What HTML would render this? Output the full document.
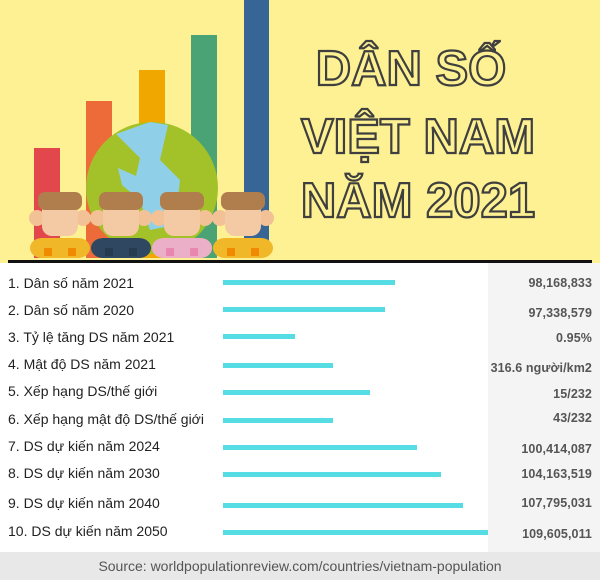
<!DOCTYPE html>
<html><head><meta charset="utf-8"><style>
body{margin:0;width:600px;height:580px;overflow:hidden;background:#fff;font-family:"Liberation Sans","DejaVu Sans",sans-serif;position:relative}
.t{position:absolute;left:8px;font-size:14px;color:#222;line-height:16px}
.v{position:absolute;right:8px;font-size:12.5px;color:#555;font-weight:bold;line-height:14px;letter-spacing:.1px}
.b{position:absolute;left:223px;height:5px;background:#55dde3}
</style></head><body>
<svg width="600" height="263" style="position:absolute;left:0;top:0">
<rect width="600" height="263" fill="#fdf193"/>
<rect x="34" y="148" width="26" height="110" fill="#e2474c"/>
<rect x="86" y="101" width="26" height="157" fill="#ec6b39"/>
<rect x="139" y="70" width="26" height="188" fill="#f0a800"/>
<rect x="191" y="35" width="26" height="223" fill="#4aa374"/>
<rect x="244" y="0" width="25" height="245" fill="#366596"/>
<circle cx="152" cy="188" r="66" fill="#a3c22a"/>
<path d="M116 134 L140 158 L136 176 L118 168 L122 185 L140 200 L150 230 L175 225 L180 180 L160 160 L168 125 L150 122 Z" fill="#8fd0e8"/>
<g id="k">
<rect x="30" y="238" width="60" height="20" rx="12" fill="#f0b829"/>
<rect x="44" y="248" width="8" height="8" fill="#f08a00"/><rect x="68" y="248" width="8" height="8" fill="#f08a00"/>
<circle cx="37" cy="218" r="8" fill="#f3c196"/><circle cx="83" cy="218" r="8" fill="#f3c196"/>
<rect x="42" y="200" width="36" height="36" rx="10" fill="#f4caa4"/>
<rect x="38" y="192" width="44" height="18" rx="7" fill="#b07d4c"/>
</g>
<use href="#k" x="61"/><use href="#k" x="122"/><use href="#k" x="183"/>
<rect x="91" y="238" width="60" height="20" rx="12" fill="#2f4760"/>
<rect x="105" y="248" width="8" height="8" fill="#263a50"/><rect x="129" y="248" width="8" height="8" fill="#263a50"/>
<rect x="152" y="238" width="60" height="20" rx="12" fill="#ebb0c8"/>
<rect x="166" y="248" width="8" height="8" fill="#e888b0"/><rect x="190" y="248" width="8" height="8" fill="#e888b0"/>
<g font-family="Liberation Sans, DejaVu Sans, sans-serif" font-weight="bold" font-size="49" fill="none" stroke="#3f3f3f" stroke-width="2.2" text-anchor="middle">
<text x="411" y="85">DÂN SỐ</text>
<text x="418" y="153">VIỆT NAM</text>
<text x="418" y="217">NĂM 2021</text>
</g>
<rect x="8" y="260" width="584" height="3" fill="#111"/>
</svg>
<div style="position:absolute;left:488px;top:263px;width:112px;height:289px;background:#f4f4f4"></div>
<div style="position:absolute;left:0;top:552px;width:600px;height:28px;background:#e8e8e8"></div>
<div style="position:absolute;left:0;top:558px;width:600px;text-align:center;font-size:14px;color:#555">Source: worldpopulationreview.com/countries/vietnam-population</div>
<div class="t" style="top:275px">1. Dân số năm 2021</div><div class="b" style="top:280px;width:172px"></div><div class="v" style="top:276px">98,168,833</div>
<div class="t" style="top:302px">2. Dân số năm 2020</div><div class="b" style="top:307px;width:162px"></div><div class="v" style="top:306px">97,338,579</div>
<div class="t" style="top:329px">3. Tỷ lệ tăng DS năm 2021</div><div class="b" style="top:334px;width:72px"></div><div class="v" style="top:331px">0.95%</div>
<div class="t" style="top:356px">4. Mật độ DS năm 2021</div><div class="b" style="top:363px;width:110px"></div><div class="v" style="top:361px">316.6 người/km2</div>
<div class="t" style="top:383px">5. Xếp hạng DS/thế giới</div><div class="b" style="top:390px;width:147px"></div><div class="v" style="top:387px">15/232</div>
<div class="t" style="top:411px">6. Xếp hạng mật độ DS/thế giới</div><div class="b" style="top:418px;width:110px"></div><div class="v" style="top:411px">43/232</div>
<div class="t" style="top:438px">7. DS dự kiến năm 2024</div><div class="b" style="top:445px;width:194px"></div><div class="v" style="top:442px">100,414,087</div>
<div class="t" style="top:465px">8. DS dự kiến năm 2030</div><div class="b" style="top:472px;width:218px"></div><div class="v" style="top:467px">104,163,519</div>
<div class="t" style="top:495px">9. DS dự kiến năm 2040</div><div class="b" style="top:503px;width:240px"></div><div class="v" style="top:496px">107,795,031</div>
<div class="t" style="top:523px">10. DS dự kiến năm 2050</div><div class="b" style="top:530px;width:265px"></div><div class="v" style="top:527px">109,605,011</div>
</body></html>
